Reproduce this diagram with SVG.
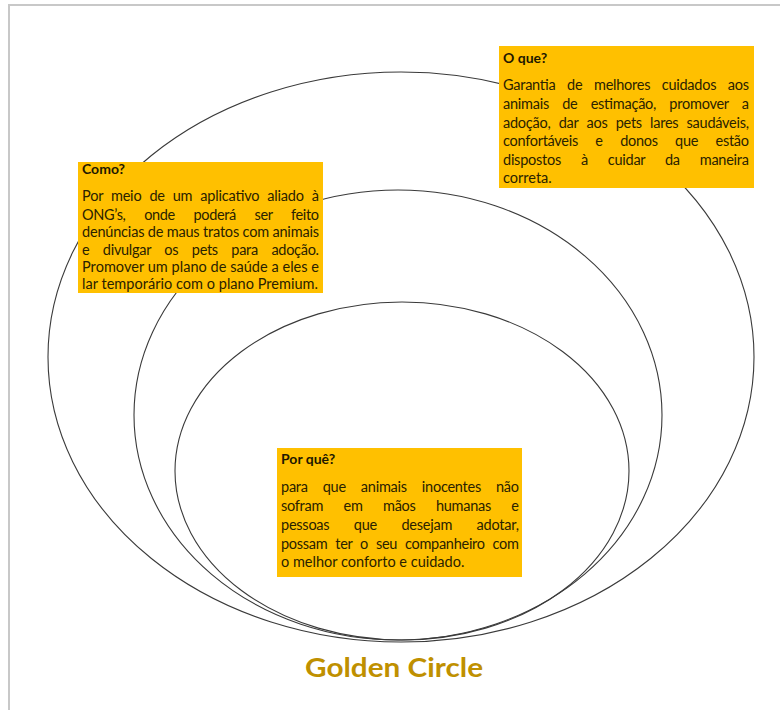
<svg xmlns="http://www.w3.org/2000/svg" width="780" height="710" viewBox="0 0 780 710">
<style>
.ring{fill:none;stroke:#3a3a3a;stroke-width:1.1}
.box{fill:#FFC000}
.hd{font-family:Lato,"Liberation Sans",sans-serif;font-weight:bold;font-size:14px;fill:#1e1800}
.tx{font-family:Lato,"Liberation Sans",sans-serif;font-size:14.5px;fill:#2a2200}
.title{font-family:Lato,"Liberation Sans",sans-serif;font-weight:bold;font-size:27px;fill:#BF9000}
</style>
<rect x="0" y="0" width="780" height="710" fill="#ffffff"/>
<path d="M9,710 V5 H780" fill="none" stroke="#c8c8c8" stroke-width="2"/>
<g id="circles">
<ellipse id="outer" class="ring" cx="401" cy="357" rx="353" ry="285"/>
<ellipse id="middle" class="ring" cx="398" cy="415" rx="264" ry="225"/>
<ellipse id="inner" class="ring" cx="402" cy="471" rx="227" ry="169"/>
</g>
<g id="oque">
<rect class="box" x="499" y="46" width="255" height="142"/>
<text class="hd" x="503" y="63">O que?</text>
<text class="tx" x="503" y="90" word-spacing="8.2" textLength="246" lengthAdjust="spacing">Garantia de melhores cuidados aos</text>
<text class="tx" x="503" y="109" word-spacing="9.7" textLength="246" lengthAdjust="spacing">animais de estimação, promover a</text>
<text class="tx" x="503" y="128" word-spacing="4.8" textLength="246" lengthAdjust="spacing">adoção, dar aos pets lares saudáveis,</text>
<text class="tx" x="503" y="146" word-spacing="14" textLength="246" lengthAdjust="spacing">confortáveis e donos que estão</text>
<text class="tx" x="503" y="165" word-spacing="16.4" textLength="246" lengthAdjust="spacing">dispostos à cuidar da maneira</text>
<text class="tx" x="503" y="183">correta.</text>
</g>
<g id="como">
<rect class="box" x="78" y="162" width="245" height="131"/>
<text class="hd" x="82" y="174">Como?</text>
<text class="tx" x="82" y="201" word-spacing="4.4" textLength="237" lengthAdjust="spacing">Por meio de um aplicativo aliado à</text>
<text class="tx" x="82" y="220" word-spacing="15.3" textLength="237" lengthAdjust="spacing">ONG’s, onde poderá ser feito</text>
<text class="tx" x="82" y="237" textLength="237" lengthAdjust="spacing">denúncias de maus tratos com animais</text>
<text class="tx" x="82" y="255" word-spacing="10.1" textLength="237" lengthAdjust="spacing">e divulgar os pets para adoção.</text>
<text class="tx" x="82" y="272" textLength="237" lengthAdjust="spacing">Promover um plano de saúde a eles e</text>
<text class="tx" x="82" y="289" textLength="236" lengthAdjust="spacing">lar temporário com o plano Premium.</text>
</g>
<g id="porque">
<rect class="box" x="277" y="448" width="245" height="129"/>
<text class="hd" x="281" y="464">Por quê?</text>
<text class="tx" x="281" y="492" word-spacing="11.5" textLength="238" lengthAdjust="spacing">para que animais inocentes não</text>
<text class="tx" x="281" y="511" word-spacing="17" textLength="238" lengthAdjust="spacing">sofram em mãos humanas e</text>
<text class="tx" x="281" y="530" word-spacing="21" textLength="238" lengthAdjust="spacing">pessoas que desejam adotar,</text>
<text class="tx" x="281" y="549" word-spacing="4.4" textLength="238" lengthAdjust="spacing">possam ter o seu companheiro com</text>
<text class="tx" x="281" y="567">o melhor conforto e cuidado.</text>
</g>
<g id="title">
<text class="title" x="305" y="677" textLength="178" lengthAdjust="spacingAndGlyphs">Golden Circle</text>
</g>
</svg>
